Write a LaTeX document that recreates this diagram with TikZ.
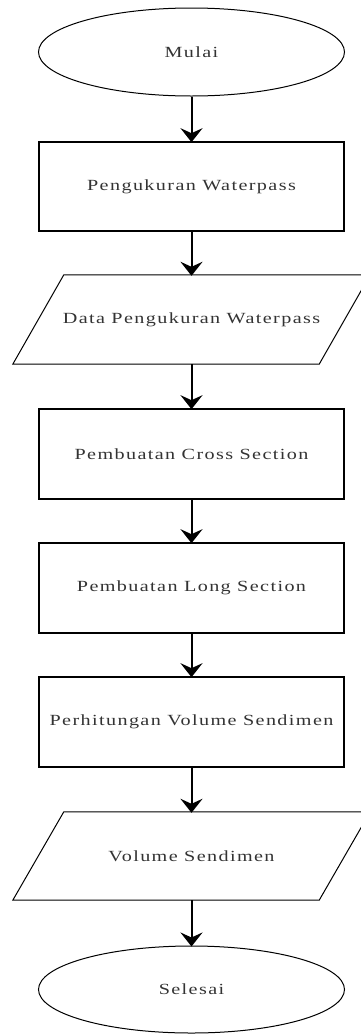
\documentclass[tikz,border=0pt]{standalone}
\usepackage{fontspec}
\setmainfont{Liberation Serif}
\newfontfamily\flowfont{Liberation Serif}[FakeStretch=1.3,LetterSpace=9]
\usetikzlibrary{shapes.geometric,arrows.meta}
\begin{document}
\begin{tikzpicture}[x=1pt,y=-1pt,
  every node/.style={font=\flowfont\fontsize{15.5}{18}\selectfont, text=black!80, inner sep=0pt},
  terminal/.style={ellipse, draw, line width=1pt, minimum width=306pt, minimum height=88pt},
  process/.style={rectangle, draw, line width=1.6pt, minimum width=305pt, minimum height=89pt},
  iobox/.style={rectangle, minimum width=306pt, minimum height=89pt},
  flow/.style={line width=2pt, -{Stealth[length=14pt,width=22pt,inset=5pt]}, shorten >=-1pt}
]
\useasboundingbox (0,0) rectangle (360,1034);

\node[terminal] (mulai) at (191.5,52) {Mulai};
\node[process] (ukur) at (191.5,186.5) {Pengukuran Waterpass};
\node[iobox] (data) at (191.5,319.5) {Data Pengukuran Waterpass};
\node[process, minimum height=90pt] (cross) at (191.5,454) {Pembuatan Cross Section};
\node[process, minimum height=90pt] (long) at (191.5,588) {Pembuatan Long Section};
\node[process, minimum height=90pt] (hitung) at (191.5,722) {Perhitungan Volume Sendimen};
\node[iobox, minimum height=88pt] (volume) at (191.5,856) {Volume Sendimen};
\node[terminal, minimum height=87pt] (selesai) at (191.5,989.5) {Selesai};

% parallelogram outlines for the data boxes
\foreach \n in {data,volume}{
  \draw[line width=1pt]
    ([xshift=25.5pt]\n.north west) -- ([xshift=25.5pt]\n.north east) --
    ([xshift=-25.5pt]\n.south east) -- ([xshift=-25.5pt]\n.south west) -- cycle;
}

\draw[flow] (mulai) -- (ukur);
\draw[flow] (ukur) -- (data);
\draw[flow] (data) -- (cross);
\draw[flow] (cross) -- (long);
\draw[flow] (long) -- (hitung);
\draw[flow] (hitung) -- (volume);
\draw[flow] (volume) -- (selesai);
\end{tikzpicture}
\end{document}
